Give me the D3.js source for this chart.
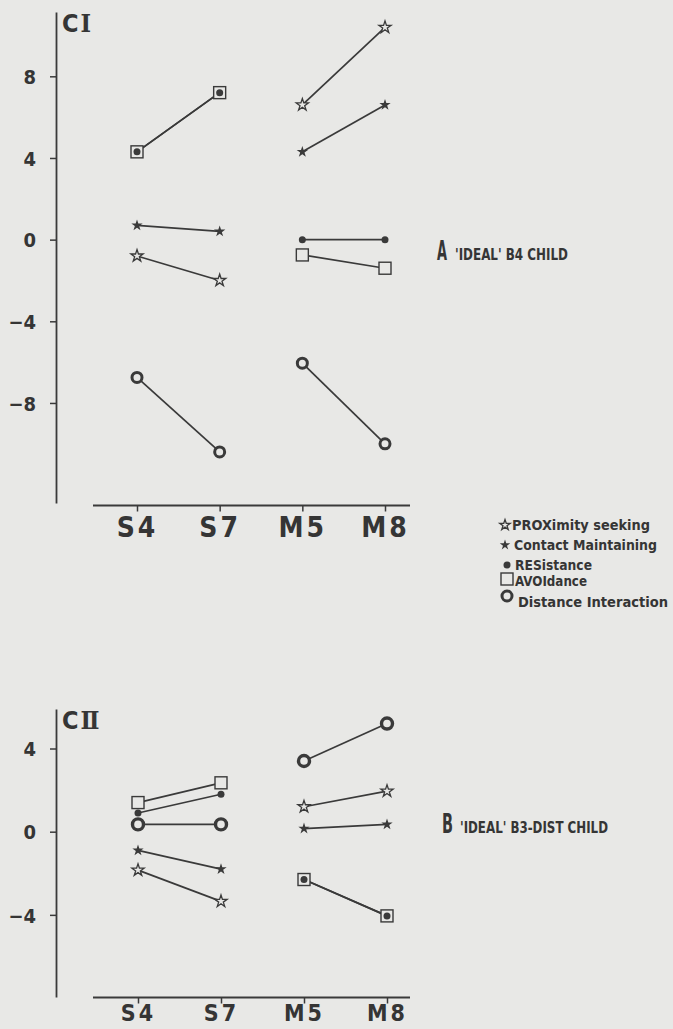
<!DOCTYPE html>
<html>
<head>
<meta charset="utf-8">
<script src="https://cdn.jsdelivr.net/npm/d3@7"></script>
<style>
  html, body { margin: 0; padding: 0; background: #e8e8e6; }
  svg { display: block; }
  text { font-family: "Liberation Sans Narrow", "DejaVu Sans Condensed", "DejaVu Sans", sans-serif; font-weight: bold; font-stretch: condensed; fill: #353535; }
</style>
</head>
<body>
<svg id="chart" width="673" height="1029"></svg>
<script>
// DATA
const categories = ["S4", "S7", "M5", "M8"];
const seriesNames = ["PROXimity seeking", "Contact Maintaining", "RESistance", "AVOIdance", "Distance Interaction"];
const seriesKeys = ["prox", "contact", "res", "avo", "di"];

// panel A (CI)
const ciProx = [-0.8, -2.0, 6.6, 10.4];
const ciContact = [0.7, 0.4, 4.3, 6.6];
const ciRes = [4.3, 7.2, 0.0, 0.0];
const ciAvo = [4.3, 7.2, -0.75, -1.4];
const ciDi = [-6.75, -10.4, -6.05, -10.0];
const ciTicks = [8, 4, 0, -4, -8];

// panel B (CII)
const ciiProx = [-1.85, -3.35, 1.2, 1.95];
const ciiContact = [-0.9, -1.8, 0.15, 0.35];
const ciiRes = [0.9, 1.8, -2.3, -4.05];
const ciiAvo = [1.4, 2.35, -2.3, -4.05];
const ciiDi = [0.35, 0.35, 3.4, 5.2];
const ciiTicks = [4, 0, -4];

const ink = "#3a3a3a";
const paper = "#e8e8e6";

const svg = d3.select("#chart");

const panels = [
  {
    name: "CI", roman: "I", title: "A", subtitle: "'IDEAL' B4 CHILD",
    series: [ciProx, ciContact, ciRes, ciAvo, ciDi],
    ticks: ciTicks,
    yDomain: [-12.9, 11.15], yRange: [503, 12],
    xRange: [137, 385], xAxisY: 505.5, xLine: [93, 410],
    labelSize: 28, labelY: 31.5,
    titlePos: [437, 260], titleLen: 10, subX: 455, subLen: 113, circleR: 5, circleW: 3
  },
  {
    name: "CII", roman: "\u2161", title: "B", subtitle: "'IDEAL' B3-DIST CHILD",
    series: [ciiProx, ciiContact, ciiRes, ciiAvo, ciiDi],
    ticks: ciiTicks,
    yDomain: [-7.95, 5.9], yRange: [997, 709],
    xRange: [138, 387], xAxisY: 997.5, xLine: [93, 410],
    labelSize: 23, labelY: 23.5,
    titlePos: [442, 833], titleLen: 11, subX: 460, subLen: 148, circleR: 5.5, circleW: 3.4
  }
];

function drawMarker(g, key, x, y, p) {
  if (key === "prox") {
    g.append("path").attr("d", d3.symbol().type(d3.symbolStar).size(p.openStar)())
      .attr("transform", `translate(${x},${y})`)
      .attr("fill", paper).attr("stroke", ink).attr("stroke-width", 1.3);
  } else if (key === "contact") {
    g.append("path").attr("d", d3.symbol().type(d3.symbolStar).size(p.fillStar)())
      .attr("transform", `translate(${x},${y})`)
      .attr("fill", ink);
  } else if (key === "res") {
    g.append("circle").attr("cx", x).attr("cy", y).attr("r", 3.5).attr("fill", ink);
  } else if (key === "avo") {
    g.append("rect").attr("x", x - 6).attr("y", y - 6).attr("width", 12).attr("height", 12)
      .attr("fill", paper).attr("stroke", ink).attr("stroke-width", 1.4);
  } else {
    g.append("circle").attr("cx", x).attr("cy", y).attr("r", p.circleR)
      .attr("fill", paper).attr("stroke", ink).attr("stroke-width", p.circleW);
  }
}

panels.forEach((p) => {
  const x = d3.scalePoint().domain(categories).range(p.xRange);
  const y = d3.scaleLinear().domain(p.yDomain).range(p.yRange);
  const g = svg.append("g");
  p.openStar = 46;
  p.fillStar = 40;

  // y axis
  const yAxis = g.append("g").attr("transform", "translate(56,0)")
    .call(d3.axisLeft(y).tickValues(p.ticks).tickSize(6).tickSizeOuter(0).tickPadding(14));
  yAxis.select(".domain").attr("stroke", ink).attr("stroke-width", 1.8);
  yAxis.selectAll(".tick line").attr("stroke", ink).attr("stroke-width", 1.5);
  yAxis.selectAll(".tick text").attr("font-size", 20).attr("fill", "#353535")
    .attr("font-family", null).attr("dy", "0.36em");

  // x axis
  const xAxis = g.append("g").attr("transform", `translate(0,${p.xAxisY})`)
    .call(d3.axisBottom(x).tickSize(6).tickSizeOuter(0));
  xAxis.select(".domain").remove();
  xAxis.append("line").attr("x1", p.xLine[0]).attr("x2", p.xLine[1])
    .attr("stroke", ink).attr("stroke-width", 1.8);
  xAxis.selectAll(".tick line").attr("stroke", ink).attr("stroke-width", 1.5);
  xAxis.selectAll(".tick text").attr("font-size", p.labelSize).attr("fill", "#353535")
    .attr("font-family", null).attr("letter-spacing", 3)
    .attr("y", p.labelY).attr("dy", 0);

  // panel label (CI / CII)
  const yTop = p.yRange[1];
  const lab = g.append("text").attr("x", 62).attr("y", yTop + 20).attr("font-size", 25);
  lab.append("tspan").text("C");
  lab.append("tspan").attr("font-family", "DejaVu Serif").attr("dx", 2).text(p.roman);

  // title
  g.append("text").attr("x", p.titlePos[0]).attr("y", p.titlePos[1])
    .attr("font-size", 26).attr("textLength", p.titleLen).attr("lengthAdjust", "spacingAndGlyphs")
    .text(p.title);
  g.append("text").attr("x", p.subX).attr("y", p.titlePos[1])
    .attr("font-size", 15).attr("textLength", p.subLen).attr("lengthAdjust", "spacingAndGlyphs")
    .text(p.subtitle);

  // line segments S4-S7 and M5-M8
  const line = d3.line().x((d) => x(d.c)).y((d) => y(d.v));
  p.series.forEach((vals) => {
    [[0, 1], [2, 3]].forEach(([a, b]) => {
      g.append("path")
        .attr("d", line([{ c: categories[a], v: vals[a] }, { c: categories[b], v: vals[b] }]))
        .attr("fill", "none").attr("stroke", ink).attr("stroke-width", 1.7);
    });
  });

  // markers, drawn so that dots sit on top of squares
  const order = ["di", "avo", "prox", "contact", "res"];
  order.forEach((key) => {
    const vals = p.series[seriesKeys.indexOf(key)];
    vals.forEach((v, i) => drawMarker(g, key, x(categories[i]), y(v), p));
  });
});

// legend
const legendRows = [
  { key: "prox", mx: 505, my: 525, tx: 512, ty: 530, len: 138 },
  { key: "contact", mx: 505, my: 545, tx: 514, ty: 550, len: 143 },
  { key: "res", mx: 507, my: 565, tx: 515, ty: 570, len: 77 },
  { key: "avo", mx: 507, my: 579, tx: 515, ty: 586, len: 72 },
  { key: "di", mx: 507, my: 596, tx: 518, ty: 607, len: 150 }
];
const lg = svg.append("g");
legendRows.forEach((r) => {
  drawMarker(lg, r.key, r.mx, r.my, { circleR: 5, circleW: 3, openStar: 34, fillStar: 34 });
  lg.append("text").attr("x", r.tx).attr("y", r.ty).attr("font-size", 14)
    .attr("textLength", r.len).attr("lengthAdjust", "spacingAndGlyphs")
    .text(seriesNames[seriesKeys.indexOf(r.key)]);
});
</script>
</body>
</html>
